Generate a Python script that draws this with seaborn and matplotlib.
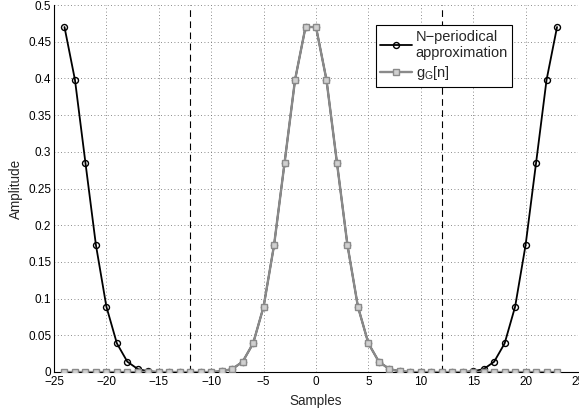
import matplotlib
matplotlib.use("Agg")
import matplotlib.pyplot as plt
import seaborn as sns
import numpy as np
import pandas as pd

# Sample index n
samples = list(range(-24, 24))

# Sampled Gaussian kernel g_G[n]
gaussian = [0.0] * 15 + [
    0.001, 0.004, 0.014, 0.039, 0.089, 0.173, 0.285, 0.398, 0.470,
    0.470, 0.398, 0.285, 0.173, 0.089, 0.039, 0.014, 0.004, 0.001,
] + [0.0] * 15

# N-periodical approximation (period N = 24)
periodic = [
    0.470, 0.398, 0.285, 0.173, 0.089, 0.039, 0.014, 0.004, 0.001,
    0.0, 0.0, 0.0, 0.0, 0.0, 0.0,
    0.001, 0.004, 0.014, 0.039, 0.089, 0.173, 0.285, 0.398, 0.470,
    0.470, 0.398, 0.285, 0.173, 0.089, 0.039, 0.014, 0.004, 0.001,
    0.0, 0.0, 0.0, 0.0, 0.0, 0.0,
    0.001, 0.004, 0.014, 0.039, 0.089, 0.173, 0.285, 0.398, 0.470,
]

# Period boundaries
boundaries = [-12, 12]

x_ticks = [-25, -20, -15, -10, -5, 0, 5, 10, 15, 20, 25]
y_ticks = [0, 0.05, 0.1, 0.15, 0.2, 0.25, 0.3, 0.35, 0.4, 0.45, 0.5]

df = pd.DataFrame({"n": samples, "periodic": periodic, "gaussian": gaussian})

sns.set_style("white")
plt.rcParams["font.family"] = ["Liberation Sans", "DejaVu Sans"]
plt.rcParams["mathtext.fontset"] = "custom"
plt.rcParams["mathtext.rm"] = "Liberation Sans"
plt.rcParams["mathtext.it"] = "Liberation Sans:italic"

fig = plt.figure(figsize=(5.79, 4.12), dpi=100)
ax = fig.add_axes([54 / 579, 40 / 412, 524 / 579, 367 / 412])

sns.lineplot(data=df, x="n", y="periodic", ax=ax, color="black", lw=1.3,
             marker="o", markersize=4.3, markerfacecolor="none",
             markeredgecolor="black", markeredgewidth=1.0,
             label="N\u2212periodical\napproximation", zorder=3)
sns.lineplot(data=df, x="n", y="gaussian", ax=ax, color="#8a8a8a", lw=1.7,
             marker="s", markersize=5, markerfacecolor="#d0d0d0",
             markeredgecolor="#8a8a8a", markeredgewidth=1.0,
             label=r"g$\mathregular{_G}$[n]", zorder=4)

for b in boundaries:
    ax.axvline(b, color="black", lw=0.8, ls=(0, (6, 4)), zorder=2)

ax.set_xlim(-25, 25)
ax.set_ylim(0, 0.5)
ax.set_xticks(x_ticks)
ax.set_yticks(y_ticks)
ax.set_xticklabels([str(t).replace("-", "\u2212") for t in x_ticks])
ax.set_yticklabels(["0", "0.05", "0.1", "0.15", "0.2", "0.25", "0.3",
                    "0.35", "0.4", "0.45", "0.5"])
ax.tick_params(direction="in", length=4, width=0.8, labelsize=8.5,
               colors="black", pad=2)
ax.tick_params(axis="x", pad=3)
ax.grid(True, color="#666666", lw=0.6, ls=(0, (1, 3)))
ax.set_axisbelow(True)

for side in ["top", "right"]:
    ax.spines[side].set_visible(False)
for side in ["left", "bottom"]:
    ax.spines[side].set_color("black")
    ax.spines[side].set_linewidth(0.8)

ax.set_xlabel("Samples", fontsize=9.75, labelpad=4)
ax.set_ylabel("Amplitude", fontsize=9.75, labelpad=3.5)

leg = ax.legend(loc="upper left", bbox_to_anchor=(0.614, 0.945),
                fontsize=10.5, frameon=True, fancybox=False,
                edgecolor="black", framealpha=1, borderpad=0.3,
                handlelength=2.2, handletextpad=0.25, labelspacing=0.3,
                borderaxespad=0)
leg.get_frame().set_linewidth(0.8)

fig.savefig("out.png", dpi=100)
